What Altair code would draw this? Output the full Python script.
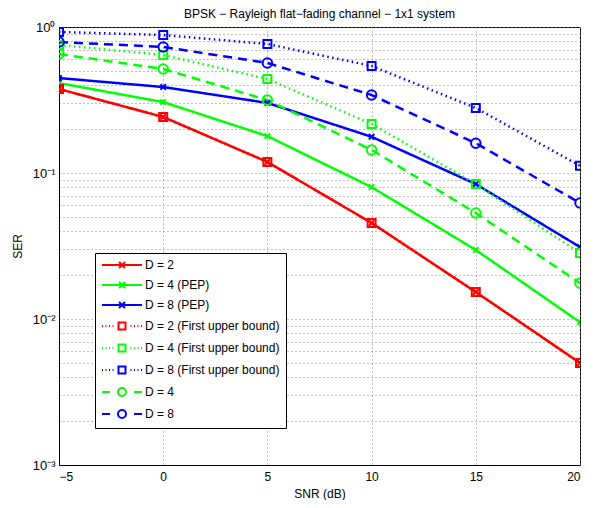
import altair as alt
import pandas as pd

snr = [-5, 0, 5, 10, 15, 20]

series_names = [
    "D = 2",
    "D = 4 (PEP)",
    "D = 8 (PEP)",
    "D = 2 (First upper bound)",
    "D = 4 (First upper bound)",
    "D = 8 (First upper bound)",
    "D = 4",
    "D = 8",
]

d2_pep = [0.376, 0.242, 0.119, 0.0455, 0.0153, 0.0050]
d4_pep = [0.413, 0.306, 0.179, 0.080, 0.0297, 0.0095]
d8_pep = [0.447, 0.388, 0.302, 0.177, 0.084, 0.0311]
d2_ub = [0.376, 0.242, 0.119, 0.0455, 0.0153, 0.0050]
d4_ub = [0.753, 0.643, 0.44, 0.217, 0.084, 0.0283]
d8_ub = [0.925, 0.881, 0.765, 0.541, 0.279, 0.112]
d4_ex = [0.653, 0.516, 0.316, 0.144, 0.0532, 0.0176]
d8_ex = [0.789, 0.730, 0.567, 0.342, 0.160, 0.0623]

values = [d2_pep, d4_pep, d8_pep, d2_ub, d4_ub, d8_ub, d4_ex, d8_ex]
colors = ["#FF0000", "#00FF00", "#0000FF", "#FF0000", "#00FF00", "#0000FF", "#00FF00", "#0000FF"]
dashes = ["solid", "solid", "solid", "dotted", "dotted", "dotted", "dashed", "dashed"]

X_PATH = "M-1,-1L1,1M-1,1L1,-1"
markers = [X_PATH, X_PATH, X_PATH, "square", "square", "square", "circle", "circle"]
marker_sizes = [30, 30, 30, 64, 64, 64, 90, 90]

# legend symbols (line + marker) as custom paths
sq = "M2.3,-0.7L3.7,-0.7L3.7,0.7L2.3,0.7Z"
xm = "M2.4,-0.6L3.6,0.6M2.4,0.6L3.6,-0.6"
circ = "M3.8,0A0.8,0.8 0 1 0 2.2,0A0.8,0.8 0 1 0 3.8,0"
dots_l = "M-1,0L-0.8,0M-0.3,0L-0.1,0M0.4,0L0.6,0M1.1,0L1.3,0"
dots_r = "M4.7,0L4.9,0M5.4,0L5.6,0M6.1,0L6.3,0M6.8,0L7,0"
leg_solid = "M-1,0L7,0" + xm
leg_dotted = dots_l + sq + dots_r
leg_dashed = "M-1,0L0.6,0" + circ + "M5.4,0L7,0"
legend_paths = [leg_solid, leg_solid, leg_solid, leg_dotted, leg_dotted, leg_dotted, leg_dashed, leg_dashed]

rows = []
for i, name in enumerate(series_names):
    for s, v in zip(snr, values[i]):
        rows.append({
            "snr": s, "ser": v, "series": name, "entry": name, "order": i,
            "col": colors[i], "dash": dashes[i], "shape": markers[i], "msize": marker_sizes[i],
        })
df = pd.DataFrame(rows)

FONT = "Liberation Sans"

yvals = []
for base_v in [0.001, 0.01, 0.1]:
    for k in range(1, 10):
        yvals.append(round(base_v * k, 6))
yvals.append(1)

label_expr = ("datum.value == 1 ? '10⁰' : datum.value == 0.1 ? '10⁻¹' : "
              "datum.value == 0.01 ? '10⁻²' : datum.value == 0.001 ? '10⁻³' : ''")

x_enc = alt.X("snr:Q", scale=alt.Scale(domain=[-5, 20], nice=False, zero=False),
              axis=alt.Axis(values=snr, title="SNR (dB)", grid=True, ticks=False,
                            gridDash=[1, 3], gridColor="#7f7f7f", gridOpacity=1,
                            labelFontSize=12, titleFontSize=12, titleFontWeight="normal",
                            labelPadding=6, titlePadding=6, domainColor="black",
                            labelColor="black", titleColor="black"))
y_enc = alt.Y("ser:Q", scale=alt.Scale(type="log", domain=[0.001, 1], nice=False),
              axis=alt.Axis(values=yvals, labelExpr=label_expr, title="SER", grid=True,
                            ticks=False, gridDash=[1, 3], gridColor="#7f7f7f", gridOpacity=1,
                            labelFontSize=13, titleFontSize=12, titleFontWeight="normal",
                            labelPadding=4, titlePadding=8, domainColor="black",
                            labelColor="black", titleColor="black", labelOverlap=False))

base = alt.Chart(df)

lines = base.mark_line(strokeWidth=2.5, clip=True).encode(
    x=x_enc, y=y_enc,
    color=alt.Color("col:N", scale=None),
    strokeDash=alt.StrokeDash("dash:N", scale=alt.Scale(domain=["solid", "dotted", "dashed"],
                                                         range=[[1, 0], [1.5, 3.5], [9, 6]]),
                              legend=None),
    detail="series:N",
    order="snr:Q",
)

points = base.mark_point(filled=False, strokeWidth=2, opacity=1, clip=True).encode(
    x="snr:Q", y="ser:Q",
    color=alt.Color("col:N", scale=None),
    shape=alt.Shape("shape:N", scale=None),
    size=alt.Size("msize:Q", scale=None),
)

leg = dict(title=None, orient="none", legendX=36, legendY=226,
           strokeColor="black", fillColor="white", padding=6,
           symbolSize=100, symbolStrokeWidth=2, labelOffset=32,
           labelFontSize=12, labelFont=FONT, rowPadding=6)

legend_layer = base.transform_filter("datum.snr > 1000").mark_point(filled=False).encode(
    x="snr:Q", y="ser:Q",
    color=alt.Color("entry:N", scale=alt.Scale(domain=series_names, range=colors),
                    legend=alt.Legend(**leg)),
    shape=alt.Shape("entry:N", scale=alt.Scale(domain=series_names, range=legend_paths),
                    legend=alt.Legend(**leg)),
)

chart = alt.layer(lines, points, legend_layer).properties(
    width=521, height=438,
    title=alt.Title("BPSK − Rayleigh flat−fading channel − 1x1 system", fontSize=12,
                    fontWeight="normal", font=FONT, offset=0, color="black"),
    autosize=alt.AutoSizeParams(type="none"),
    padding={"left": 51, "top": 19, "right": 9, "bottom": 35},
).configure(font=FONT, background="white").configure_view(stroke="black", strokeWidth=1)

chart.save("out.html", embed_options={"renderer": "svg", "actions": False})
